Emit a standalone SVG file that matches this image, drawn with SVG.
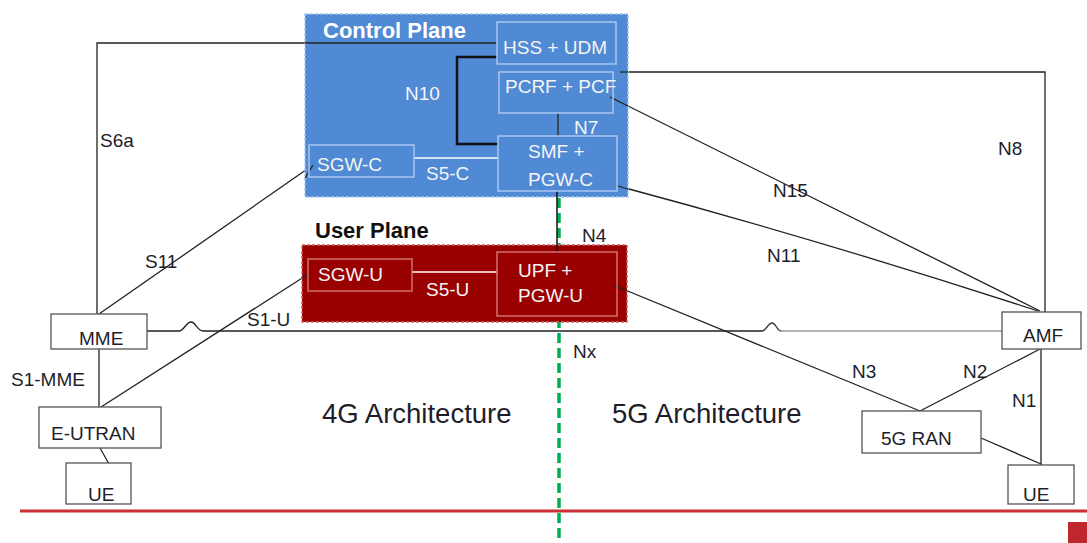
<svg xmlns="http://www.w3.org/2000/svg" width="1087" height="543" viewBox="0 0 1087 543">
<style>
.t{font-family:"Liberation Sans",Arial,sans-serif;font-size:19px;fill:#1e1e2a}
.w{font-family:"Liberation Sans",Arial,sans-serif;font-size:19px;fill:#f4f4f4}
.h{font-family:"Liberation Sans",Arial,sans-serif;font-size:22px;font-weight:bold}
.big{font-family:"Liberation Sans",Arial,sans-serif;font-size:27.5px;fill:#1e1e2a}
.box{fill:#fff;stroke:#555;stroke-width:1.3}
.bn{fill:none;stroke:#a9c6ee;stroke-width:1.5}
.rn{fill:none;stroke:#d07070;stroke-width:1.5}
.ln{fill:none;stroke:#222;stroke-width:1.3}
</style>
<rect x="0" y="0" width="1087" height="543" fill="#fff"/>
<g id="connectors">
<line x1="559" y1="198" x2="559" y2="543" stroke="#00b050" stroke-width="3.5" stroke-dasharray="10 5"/>
<polyline class="ln" points="497,43 97,43 97,314"/>
<line class="ln" x1="99" y1="314" x2="313" y2="165"/>
<line class="ln" x1="101" y1="407" x2="310" y2="273"/>
<line class="ln" x1="99" y1="349" x2="99" y2="407"/>
<line class="ln" x1="100" y1="448" x2="109" y2="464"/>
<path class="ln" d="M147,331 H179 C184,331 186,322 191,322 C196,322 197,331 203,331 H762"/>
<path d="M762,331 C766,331 768,323 772,323 C776,323 777,331 781,331" fill="none" stroke="#333" stroke-width="1.3"/>
<line x1="781" y1="331" x2="1002" y2="331" stroke="#999" stroke-width="1.6"/>
<polyline class="ln" points="620,72 1045,72 1045,312"/>
<line class="ln" x1="610" y1="97" x2="1040" y2="311"/>
<path class="ln" d="M618,186 Q820,240 1038,311"/>
<line class="ln" x1="613" y1="285" x2="920" y2="411"/>
<line class="ln" x1="920" y1="411" x2="1040" y2="349"/>
<line class="ln" x1="1041" y1="349" x2="1041" y2="468"/>
<line class="ln" x1="981" y1="438" x2="1041" y2="464"/>
<line x1="20" y1="511" x2="1087" y2="511" stroke="#cc2f35" stroke-width="3"/>
</g>
<g id="control-plane">
<rect x="305" y="14" width="323" height="183" fill="#5089d4" stroke="#a8c6ee" stroke-width="1.5" stroke-dasharray="3 2"/>
<text class="h" x="323" y="38" fill="#fff">Control Plane</text>
<line class="ln" x1="305" y1="43" x2="497" y2="43"/>
<line class="ln" x1="620" y1="72" x2="628" y2="72"/>
<line class="ln" x1="610" y1="97" x2="628" y2="106"/>
<line class="ln" x1="618" y1="186" x2="628" y2="189"/>
<line class="ln" x1="305" y1="178" x2="313" y2="165"/>
<polyline points="497,57 457,57 457,144 498,144" fill="none" stroke="#111" stroke-width="2.5"/>
<line x1="558" y1="113" x2="558" y2="136" stroke="#333" stroke-width="1.5"/>
<line x1="414" y1="158" x2="498" y2="158" stroke="#fff" stroke-width="1.5"/>
</g>
<g id="user-plane">
<rect x="302" y="245" width="325" height="77" fill="#990000" stroke="#d06060" stroke-width="1.5" stroke-dasharray="3 2"/>
<text class="h" x="315" y="238" fill="#111">User Plane</text>
<line x1="412" y1="272" x2="497" y2="272" stroke="#fff" stroke-width="1.5"/>
<line class="ln" x1="302" y1="278" x2="310" y2="273"/>
<line class="ln" x1="613" y1="285" x2="627" y2="291"/>
</g>
<line id="n4" x1="557" y1="191" x2="557" y2="252" stroke="#111" stroke-width="1.5"/>
<g id="hss-udm"><rect class="bn" x="497" y="22" width="119" height="42"/><text class="w" x="503" y="54">HSS + UDM</text></g>
<g id="pcrf-pcf"><rect class="bn" x="499" y="72" width="114" height="41"/><text class="w" x="505" y="93">PCRF + PCF</text></g>
<g id="smf-pgwc"><rect class="bn" x="498" y="136" width="119" height="55"/><text class="w" x="528" y="158">SMF +</text><text class="w" x="528" y="186">PGW-C</text></g>
<g id="sgw-c"><rect class="bn" x="309" y="145" width="105" height="32"/><text class="w" x="317" y="171">SGW-C</text></g>
<g id="sgw-u"><rect class="rn" x="308" y="259" width="104" height="32"/><text class="w" x="318" y="281">SGW-U</text></g>
<g id="upf-pgwu"><rect class="rn" x="497" y="252" width="120" height="64"/><text class="w" x="518" y="277">UPF +</text><text class="w" x="518" y="302">PGW-U</text></g>
<g id="mme"><rect class="box" x="51" y="314" width="96" height="35"/><text class="t" x="79" y="345">MME</text></g>
<g id="e-utran"><rect class="box" x="39" y="407" width="122" height="41"/><text class="t" x="51" y="440">E-UTRAN</text></g>
<g id="ue-4g"><rect class="box" x="66" y="463" width="65" height="41"/><text class="t" x="88" y="501">UE</text></g>
<g id="amf"><rect class="box" x="1002" y="312" width="79" height="37"/><text class="t" x="1023" y="342">AMF</text></g>
<g id="ran-5g"><rect class="box" x="862" y="411" width="119" height="42"/><text class="t" x="881" y="445">5G RAN</text></g>
<g id="ue-5g"><rect class="box" x="1008" y="465" width="66" height="39"/><text class="t" x="1023" y="501">UE</text></g>
<g id="labels">
<text class="w" x="405" y="100">N10</text>
<text class="w" x="574" y="134">N7</text>
<text class="w" x="426" y="180">S5-C</text>
<text class="w" x="426" y="296">S5-U</text>
<text class="t" x="582" y="242">N4</text>
<text class="t" x="100" y="147">S6a</text>
<text class="t" x="145" y="268">S11</text>
<text class="t" x="247" y="326">S1-U</text>
<text class="t" x="573" y="358">Nx</text>
<text class="t" x="11" y="386">S1-MME</text>
<text class="t" x="773" y="197">N15</text>
<text class="t" x="998" y="155">N8</text>
<text class="t" x="767" y="262">N11</text>
<text class="t" x="852" y="378">N3</text>
<text class="t" x="963" y="378">N2</text>
<text class="t" x="1012" y="407">N1</text>
<text class="big" x="322" y="423">4G Architecture</text>
<text class="big" x="612" y="423">5G Architecture</text>
</g>
<rect x="1068" y="522" width="19" height="21" fill="#c0272d"/>
</svg>
